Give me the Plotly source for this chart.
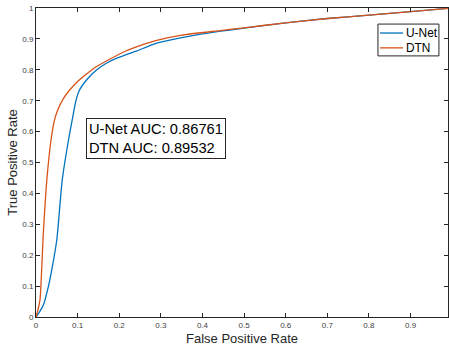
import plotly.graph_objects as go

fpr_unet = [0, 0.01, 0.018, 0.03, 0.038, 0.05, 0.063, 0.078, 0.088, 0.096, 0.104, 0.124, 0.144, 0.17,
            0.194, 0.215, 0.242, 0.29, 0.35, 0.443, 0.5, 0.6, 0.7, 0.8, 0.9, 1.0]
tpr_unet = [0, 0.02, 0.04, 0.10, 0.153, 0.25, 0.443, 0.572, 0.645, 0.70, 0.733, 0.771, 0.798, 0.822,
            0.838, 0.848, 0.861, 0.886, 0.904, 0.925, 0.935, 0.952, 0.966, 0.977, 0.988, 1.0]

fpr_dtn = [0, 0.005, 0.0096, 0.0176, 0.026, 0.036, 0.044, 0.052, 0.065, 0.08, 0.1, 0.122, 0.14,
           0.178, 0.215, 0.25, 0.29, 0.35, 0.443, 0.5, 0.6, 0.7, 0.8, 0.9, 1.0]
tpr_dtn = [0, 0.025, 0.056, 0.27, 0.443, 0.572, 0.635, 0.669, 0.705, 0.733, 0.762, 0.787, 0.806,
           0.835, 0.86, 0.878, 0.895, 0.912, 0.927, 0.936, 0.952, 0.966, 0.977, 0.988, 1.0]

series_names = ["U-Net", "DTN"]
series_colors = ["#0072BD", "#D95319"]
auc_values = ["0.86761", "0.89532"]
x_ticks = [0, 0.1, 0.2, 0.3, 0.4, 0.5, 0.6, 0.7, 0.8, 0.9]
x_tick_labels = ["0", "0.1", "0.2", "0.3", "0.4", "0.5", "0.6", "0.7", "0.8", "0.9"]
y_ticks = [0, 0.1, 0.2, 0.3, 0.4, 0.5, 0.6, 0.7, 0.8, 0.9, 1.0]
y_tick_labels = ["0", "0.1", "0.2", "0.3", "0.4", "0.5", "0.6", "0.7", "0.8", "0.9", "1"]

FONT = "Liberation Sans, Arial, Helvetica, sans-serif"
AX = "#262626"

fig = go.Figure()
for xs, ys, name, col in [(fpr_unet, tpr_unet, series_names[0], series_colors[0]),
                          (fpr_dtn, tpr_dtn, series_names[1], series_colors[1])]:
    fig.add_trace(go.Scatter(x=xs, y=ys, mode="lines", name=name, showlegend=False,
                             line=dict(color=col, width=1.3, shape="spline", smoothing=0.6)))

axis_common = dict(showgrid=False, zeroline=False, showline=True, linecolor=AX, linewidth=1,
                   mirror="ticks", ticks="inside", ticklen=4, tickcolor=AX, tickwidth=1,
                   automargin=False,
                   tickfont=dict(family=FONT, size=8, color="#404040"))

fig.update_xaxes(range=[0, 0.99], tickvals=x_ticks, ticktext=x_tick_labels,
                 title=dict(text="False Positive Rate", font=dict(family=FONT, size=13, color=AX), standoff=5),
                 **axis_common)
fig.update_yaxes(range=[0, 1], tickvals=y_ticks, ticktext=y_tick_labels,
                 title=dict(text="True Positive Rate", font=dict(family=FONT, size=13, color=AX), standoff=1),
                 **axis_common)

fig.add_annotation(x=0.2906, y=0.578, xref="paper", yref="paper", xanchor="center", yanchor="middle",
                   text=f"{series_names[0]} AUC: {auc_values[0]}<br>{series_names[1]} AUC: {auc_values[1]}",
                   align="left", showarrow=False, bgcolor="white", bordercolor=AX, borderwidth=1,
                   borderpad=2, font=dict(family=FONT, size=14.7, color="black"))

# manual legend (MATLAB style)
fig.add_shape(type="rect", xref="paper", yref="paper", x0=0.830, x1=0.978, y0=0.845, y1=0.948,
              line=dict(color=AX, width=1), fillcolor="white", layer="above")
leg_y = [0.919, 0.871]
for i in range(2):
    fig.add_shape(type="line", xref="paper", yref="paper", x0=0.835, x1=0.891, y0=leg_y[i], y1=leg_y[i],
                  line=dict(color=series_colors[i], width=1.3), layer="above")
    fig.add_annotation(x=0.893, y=leg_y[i], xref="paper", yref="paper", xanchor="left", yanchor="middle",
                       text=series_names[i], showarrow=False,
                       font=dict(family=FONT, size=11.9, color="black"))

fig.update_layout(
    width=449, height=350,
    margin=dict(l=36, r=1, t=8, b=33),
    plot_bgcolor="white", paper_bgcolor="white",
    font=dict(family=FONT, color=AX),
    showlegend=False,
)

fig.write_html("out.html", config={"displayModeBar": False},
               post_script="document.body.style.margin='0';")
